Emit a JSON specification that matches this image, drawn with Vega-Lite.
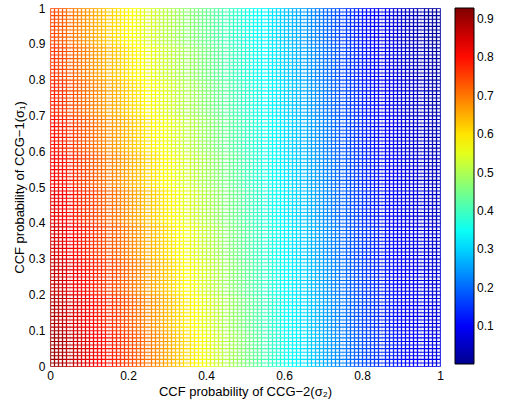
{
"$schema":"https://vega.github.io/schema/vega-lite/v6.json",
"width":390,"height":358,
"autosize":{"type":"none"},
"padding":{"left":50,"top":8,"right":70,"bottom":40},
"background":"white",
"config":{"view":{"stroke":null},"font":"Liberation Sans"},
"data":{"values":[
{"x":0,"y":0,"v":0.903},{"x":0,"y":0.1,"v":0.886},{"x":0,"y":0.2,"v":0.868},{"x":0,"y":0.3,"v":0.850},{"x":0,"y":0.4,"v":0.833},{"x":0,"y":0.5,"v":0.815},{"x":0,"y":0.6,"v":0.798},{"x":0,"y":0.7,"v":0.780},{"x":0,"y":0.8,"v":0.762},{"x":0,"y":0.9,"v":0.745},
{"x":0.02,"y":0,"v":0.887},{"x":0.02,"y":0.1,"v":0.869},{"x":0.02,"y":0.2,"v":0.852},{"x":0.02,"y":0.3,"v":0.834},{"x":0.02,"y":0.4,"v":0.816},{"x":0.02,"y":0.5,"v":0.798},{"x":0.02,"y":0.6,"v":0.780},{"x":0.02,"y":0.7,"v":0.763},{"x":0.02,"y":0.8,"v":0.745},{"x":0.02,"y":0.9,"v":0.727},
{"x":0.04,"y":0,"v":0.871},{"x":0.04,"y":0.1,"v":0.853},{"x":0.04,"y":0.2,"v":0.835},{"x":0.04,"y":0.3,"v":0.817},{"x":0.04,"y":0.4,"v":0.799},{"x":0.04,"y":0.5,"v":0.781},{"x":0.04,"y":0.6,"v":0.763},{"x":0.04,"y":0.7,"v":0.745},{"x":0.04,"y":0.8,"v":0.727},{"x":0.04,"y":0.9,"v":0.709},
{"x":0.06,"y":0,"v":0.855},{"x":0.06,"y":0.1,"v":0.837},{"x":0.06,"y":0.2,"v":0.819},{"x":0.06,"y":0.3,"v":0.800},{"x":0.06,"y":0.4,"v":0.782},{"x":0.06,"y":0.5,"v":0.764},{"x":0.06,"y":0.6,"v":0.746},{"x":0.06,"y":0.7,"v":0.728},{"x":0.06,"y":0.8,"v":0.709},{"x":0.06,"y":0.9,"v":0.691},
{"x":0.08,"y":0,"v":0.839},{"x":0.08,"y":0.1,"v":0.820},{"x":0.08,"y":0.2,"v":0.802},{"x":0.08,"y":0.3,"v":0.784},{"x":0.08,"y":0.4,"v":0.765},{"x":0.08,"y":0.5,"v":0.747},{"x":0.08,"y":0.6,"v":0.728},{"x":0.08,"y":0.7,"v":0.710},{"x":0.08,"y":0.8,"v":0.692},{"x":0.08,"y":0.9,"v":0.673},
{"x":0.1,"y":0,"v":0.823},{"x":0.1,"y":0.1,"v":0.804},{"x":0.1,"y":0.2,"v":0.786},{"x":0.1,"y":0.3,"v":0.767},{"x":0.1,"y":0.4,"v":0.749},{"x":0.1,"y":0.5,"v":0.730},{"x":0.1,"y":0.6,"v":0.711},{"x":0.1,"y":0.7,"v":0.693},{"x":0.1,"y":0.8,"v":0.674},{"x":0.1,"y":0.9,"v":0.656},
{"x":0.12,"y":0,"v":0.807},{"x":0.12,"y":0.1,"v":0.788},{"x":0.12,"y":0.2,"v":0.769},{"x":0.12,"y":0.3,"v":0.751},{"x":0.12,"y":0.4,"v":0.732},{"x":0.12,"y":0.5,"v":0.713},{"x":0.12,"y":0.6,"v":0.695},{"x":0.12,"y":0.7,"v":0.676},{"x":0.12,"y":0.8,"v":0.657},{"x":0.12,"y":0.9,"v":0.639},
{"x":0.14,"y":0,"v":0.791},{"x":0.14,"y":0.1,"v":0.772},{"x":0.14,"y":0.2,"v":0.753},{"x":0.14,"y":0.3,"v":0.734},{"x":0.14,"y":0.4,"v":0.716},{"x":0.14,"y":0.5,"v":0.697},{"x":0.14,"y":0.6,"v":0.678},{"x":0.14,"y":0.7,"v":0.659},{"x":0.14,"y":0.8,"v":0.641},{"x":0.14,"y":0.9,"v":0.622},
{"x":0.16,"y":0,"v":0.775},{"x":0.16,"y":0.1,"v":0.756},{"x":0.16,"y":0.2,"v":0.737},{"x":0.16,"y":0.3,"v":0.718},{"x":0.16,"y":0.4,"v":0.699},{"x":0.16,"y":0.5,"v":0.680},{"x":0.16,"y":0.6,"v":0.661},{"x":0.16,"y":0.7,"v":0.643},{"x":0.16,"y":0.8,"v":0.624},{"x":0.16,"y":0.9,"v":0.605},
{"x":0.18,"y":0,"v":0.759},{"x":0.18,"y":0.1,"v":0.740},{"x":0.18,"y":0.2,"v":0.721},{"x":0.18,"y":0.3,"v":0.702},{"x":0.18,"y":0.4,"v":0.683},{"x":0.18,"y":0.5,"v":0.664},{"x":0.18,"y":0.6,"v":0.645},{"x":0.18,"y":0.7,"v":0.626},{"x":0.18,"y":0.8,"v":0.607},{"x":0.18,"y":0.9,"v":0.588},
{"x":0.2,"y":0,"v":0.741},{"x":0.2,"y":0.1,"v":0.722},{"x":0.2,"y":0.2,"v":0.704},{"x":0.2,"y":0.3,"v":0.685},{"x":0.2,"y":0.4,"v":0.666},{"x":0.2,"y":0.5,"v":0.647},{"x":0.2,"y":0.6,"v":0.629},{"x":0.2,"y":0.7,"v":0.610},{"x":0.2,"y":0.8,"v":0.591},{"x":0.2,"y":0.9,"v":0.572},
{"x":0.22,"y":0,"v":0.722},{"x":0.22,"y":0.1,"v":0.704},{"x":0.22,"y":0.2,"v":0.686},{"x":0.22,"y":0.3,"v":0.668},{"x":0.22,"y":0.4,"v":0.649},{"x":0.22,"y":0.5,"v":0.631},{"x":0.22,"y":0.6,"v":0.613},{"x":0.22,"y":0.7,"v":0.595},{"x":0.22,"y":0.8,"v":0.576},{"x":0.22,"y":0.9,"v":0.558},
{"x":0.24,"y":0,"v":0.704},{"x":0.24,"y":0.1,"v":0.686},{"x":0.24,"y":0.2,"v":0.668},{"x":0.24,"y":0.3,"v":0.650},{"x":0.24,"y":0.4,"v":0.633},{"x":0.24,"y":0.5,"v":0.615},{"x":0.24,"y":0.6,"v":0.597},{"x":0.24,"y":0.7,"v":0.579},{"x":0.24,"y":0.8,"v":0.562},{"x":0.24,"y":0.9,"v":0.544},
{"x":0.26,"y":0,"v":0.685},{"x":0.26,"y":0.1,"v":0.668},{"x":0.26,"y":0.2,"v":0.650},{"x":0.26,"y":0.3,"v":0.633},{"x":0.26,"y":0.4,"v":0.616},{"x":0.26,"y":0.5,"v":0.599},{"x":0.26,"y":0.6,"v":0.581},{"x":0.26,"y":0.7,"v":0.564},{"x":0.26,"y":0.8,"v":0.547},{"x":0.26,"y":0.9,"v":0.530},
{"x":0.28,"y":0,"v":0.666},{"x":0.28,"y":0.1,"v":0.649},{"x":0.28,"y":0.2,"v":0.633},{"x":0.28,"y":0.3,"v":0.616},{"x":0.28,"y":0.4,"v":0.599},{"x":0.28,"y":0.5,"v":0.582},{"x":0.28,"y":0.6,"v":0.566},{"x":0.28,"y":0.7,"v":0.549},{"x":0.28,"y":0.8,"v":0.532},{"x":0.28,"y":0.9,"v":0.515},
{"x":0.3,"y":0,"v":0.647},{"x":0.3,"y":0.1,"v":0.631},{"x":0.3,"y":0.2,"v":0.615},{"x":0.3,"y":0.3,"v":0.598},{"x":0.3,"y":0.4,"v":0.582},{"x":0.3,"y":0.5,"v":0.566},{"x":0.3,"y":0.6,"v":0.550},{"x":0.3,"y":0.7,"v":0.534},{"x":0.3,"y":0.8,"v":0.518},{"x":0.3,"y":0.9,"v":0.502},
{"x":0.32,"y":0,"v":0.627},{"x":0.32,"y":0.1,"v":0.612},{"x":0.32,"y":0.2,"v":0.596},{"x":0.32,"y":0.3,"v":0.581},{"x":0.32,"y":0.4,"v":0.565},{"x":0.32,"y":0.5,"v":0.550},{"x":0.32,"y":0.6,"v":0.535},{"x":0.32,"y":0.7,"v":0.519},{"x":0.32,"y":0.8,"v":0.504},{"x":0.32,"y":0.9,"v":0.488},
{"x":0.34,"y":0,"v":0.608},{"x":0.34,"y":0.1,"v":0.593},{"x":0.34,"y":0.2,"v":0.578},{"x":0.34,"y":0.3,"v":0.563},{"x":0.34,"y":0.4,"v":0.549},{"x":0.34,"y":0.5,"v":0.534},{"x":0.34,"y":0.6,"v":0.519},{"x":0.34,"y":0.7,"v":0.504},{"x":0.34,"y":0.8,"v":0.490},{"x":0.34,"y":0.9,"v":0.475},
{"x":0.36,"y":0,"v":0.588},{"x":0.36,"y":0.1,"v":0.574},{"x":0.36,"y":0.2,"v":0.560},{"x":0.36,"y":0.3,"v":0.546},{"x":0.36,"y":0.4,"v":0.532},{"x":0.36,"y":0.5,"v":0.518},{"x":0.36,"y":0.6,"v":0.504},{"x":0.36,"y":0.7,"v":0.490},{"x":0.36,"y":0.8,"v":0.476},{"x":0.36,"y":0.9,"v":0.462},
{"x":0.38,"y":0,"v":0.568},{"x":0.38,"y":0.1,"v":0.555},{"x":0.38,"y":0.2,"v":0.542},{"x":0.38,"y":0.3,"v":0.528},{"x":0.38,"y":0.4,"v":0.515},{"x":0.38,"y":0.5,"v":0.502},{"x":0.38,"y":0.6,"v":0.488},{"x":0.38,"y":0.7,"v":0.475},{"x":0.38,"y":0.8,"v":0.462},{"x":0.38,"y":0.9,"v":0.448},
{"x":0.4,"y":0,"v":0.549},{"x":0.4,"y":0.1,"v":0.536},{"x":0.4,"y":0.2,"v":0.523},{"x":0.4,"y":0.3,"v":0.511},{"x":0.4,"y":0.4,"v":0.498},{"x":0.4,"y":0.5,"v":0.485},{"x":0.4,"y":0.6,"v":0.473},{"x":0.4,"y":0.7,"v":0.460},{"x":0.4,"y":0.8,"v":0.447},{"x":0.4,"y":0.9,"v":0.434},
{"x":0.42,"y":0,"v":0.529},{"x":0.42,"y":0.1,"v":0.517},{"x":0.42,"y":0.2,"v":0.505},{"x":0.42,"y":0.3,"v":0.493},{"x":0.42,"y":0.4,"v":0.481},{"x":0.42,"y":0.5,"v":0.469},{"x":0.42,"y":0.6,"v":0.456},{"x":0.42,"y":0.7,"v":0.444},{"x":0.42,"y":0.8,"v":0.432},{"x":0.42,"y":0.9,"v":0.420},
{"x":0.44,"y":0,"v":0.509},{"x":0.44,"y":0.1,"v":0.498},{"x":0.44,"y":0.2,"v":0.486},{"x":0.44,"y":0.3,"v":0.475},{"x":0.44,"y":0.4,"v":0.463},{"x":0.44,"y":0.5,"v":0.452},{"x":0.44,"y":0.6,"v":0.440},{"x":0.44,"y":0.7,"v":0.429},{"x":0.44,"y":0.8,"v":0.417},{"x":0.44,"y":0.9,"v":0.406},
{"x":0.46,"y":0,"v":0.490},{"x":0.46,"y":0.1,"v":0.479},{"x":0.46,"y":0.2,"v":0.468},{"x":0.46,"y":0.3,"v":0.457},{"x":0.46,"y":0.4,"v":0.446},{"x":0.46,"y":0.5,"v":0.435},{"x":0.46,"y":0.6,"v":0.424},{"x":0.46,"y":0.7,"v":0.413},{"x":0.46,"y":0.8,"v":0.402},{"x":0.46,"y":0.9,"v":0.392},
{"x":0.48,"y":0,"v":0.470},{"x":0.48,"y":0.1,"v":0.460},{"x":0.48,"y":0.2,"v":0.449},{"x":0.48,"y":0.3,"v":0.439},{"x":0.48,"y":0.4,"v":0.429},{"x":0.48,"y":0.5,"v":0.418},{"x":0.48,"y":0.6,"v":0.408},{"x":0.48,"y":0.7,"v":0.398},{"x":0.48,"y":0.8,"v":0.388},{"x":0.48,"y":0.9,"v":0.377},
{"x":0.5,"y":0,"v":0.450},{"x":0.5,"y":0.1,"v":0.440},{"x":0.5,"y":0.2,"v":0.431},{"x":0.5,"y":0.3,"v":0.421},{"x":0.5,"y":0.4,"v":0.411},{"x":0.5,"y":0.5,"v":0.401},{"x":0.5,"y":0.6,"v":0.392},{"x":0.5,"y":0.7,"v":0.382},{"x":0.5,"y":0.8,"v":0.372},{"x":0.5,"y":0.9,"v":0.362},
{"x":0.52,"y":0,"v":0.430},{"x":0.52,"y":0.1,"v":0.421},{"x":0.52,"y":0.2,"v":0.412},{"x":0.52,"y":0.3,"v":0.403},{"x":0.52,"y":0.4,"v":0.393},{"x":0.52,"y":0.5,"v":0.384},{"x":0.52,"y":0.6,"v":0.375},{"x":0.52,"y":0.7,"v":0.366},{"x":0.52,"y":0.8,"v":0.356},{"x":0.52,"y":0.9,"v":0.347},
{"x":0.54,"y":0,"v":0.411},{"x":0.54,"y":0.1,"v":0.402},{"x":0.54,"y":0.2,"v":0.393},{"x":0.54,"y":0.3,"v":0.384},{"x":0.54,"y":0.4,"v":0.376},{"x":0.54,"y":0.5,"v":0.367},{"x":0.54,"y":0.6,"v":0.358},{"x":0.54,"y":0.7,"v":0.349},{"x":0.54,"y":0.8,"v":0.341},{"x":0.54,"y":0.9,"v":0.332},
{"x":0.56,"y":0,"v":0.391},{"x":0.56,"y":0.1,"v":0.383},{"x":0.56,"y":0.2,"v":0.374},{"x":0.56,"y":0.3,"v":0.366},{"x":0.56,"y":0.4,"v":0.358},{"x":0.56,"y":0.5,"v":0.350},{"x":0.56,"y":0.6,"v":0.341},{"x":0.56,"y":0.7,"v":0.333},{"x":0.56,"y":0.8,"v":0.325},{"x":0.56,"y":0.9,"v":0.317},
{"x":0.58,"y":0,"v":0.371},{"x":0.58,"y":0.1,"v":0.363},{"x":0.58,"y":0.2,"v":0.356},{"x":0.58,"y":0.3,"v":0.348},{"x":0.58,"y":0.4,"v":0.340},{"x":0.58,"y":0.5,"v":0.332},{"x":0.58,"y":0.6,"v":0.325},{"x":0.58,"y":0.7,"v":0.317},{"x":0.58,"y":0.8,"v":0.309},{"x":0.58,"y":0.9,"v":0.301},
{"x":0.6,"y":0,"v":0.352},{"x":0.6,"y":0.1,"v":0.344},{"x":0.6,"y":0.2,"v":0.337},{"x":0.6,"y":0.3,"v":0.330},{"x":0.6,"y":0.4,"v":0.322},{"x":0.6,"y":0.5,"v":0.315},{"x":0.6,"y":0.6,"v":0.307},{"x":0.6,"y":0.7,"v":0.300},{"x":0.6,"y":0.8,"v":0.293},{"x":0.6,"y":0.9,"v":0.285},
{"x":0.62,"y":0,"v":0.333},{"x":0.62,"y":0.1,"v":0.326},{"x":0.62,"y":0.2,"v":0.319},{"x":0.62,"y":0.3,"v":0.311},{"x":0.62,"y":0.4,"v":0.304},{"x":0.62,"y":0.5,"v":0.297},{"x":0.62,"y":0.6,"v":0.290},{"x":0.62,"y":0.7,"v":0.283},{"x":0.62,"y":0.8,"v":0.275},{"x":0.62,"y":0.9,"v":0.268},
{"x":0.64,"y":0,"v":0.314},{"x":0.64,"y":0.1,"v":0.307},{"x":0.64,"y":0.2,"v":0.300},{"x":0.64,"y":0.3,"v":0.293},{"x":0.64,"y":0.4,"v":0.286},{"x":0.64,"y":0.5,"v":0.279},{"x":0.64,"y":0.6,"v":0.272},{"x":0.64,"y":0.7,"v":0.265},{"x":0.64,"y":0.8,"v":0.258},{"x":0.64,"y":0.9,"v":0.251},
{"x":0.66,"y":0,"v":0.295},{"x":0.66,"y":0.1,"v":0.288},{"x":0.66,"y":0.2,"v":0.282},{"x":0.66,"y":0.3,"v":0.275},{"x":0.66,"y":0.4,"v":0.268},{"x":0.66,"y":0.5,"v":0.261},{"x":0.66,"y":0.6,"v":0.254},{"x":0.66,"y":0.7,"v":0.248},{"x":0.66,"y":0.8,"v":0.241},{"x":0.66,"y":0.9,"v":0.234},
{"x":0.68,"y":0,"v":0.276},{"x":0.68,"y":0.1,"v":0.270},{"x":0.68,"y":0.2,"v":0.263},{"x":0.68,"y":0.3,"v":0.256},{"x":0.68,"y":0.4,"v":0.250},{"x":0.68,"y":0.5,"v":0.243},{"x":0.68,"y":0.6,"v":0.237},{"x":0.68,"y":0.7,"v":0.230},{"x":0.68,"y":0.8,"v":0.223},{"x":0.68,"y":0.9,"v":0.217},
{"x":0.7,"y":0,"v":0.258},{"x":0.7,"y":0.1,"v":0.251},{"x":0.7,"y":0.2,"v":0.245},{"x":0.7,"y":0.3,"v":0.238},{"x":0.7,"y":0.4,"v":0.232},{"x":0.7,"y":0.5,"v":0.226},{"x":0.7,"y":0.6,"v":0.219},{"x":0.7,"y":0.7,"v":0.213},{"x":0.7,"y":0.8,"v":0.206},{"x":0.7,"y":0.9,"v":0.200},
{"x":0.72,"y":0,"v":0.240},{"x":0.72,"y":0.1,"v":0.233},{"x":0.72,"y":0.2,"v":0.227},{"x":0.72,"y":0.3,"v":0.221},{"x":0.72,"y":0.4,"v":0.214},{"x":0.72,"y":0.5,"v":0.208},{"x":0.72,"y":0.6,"v":0.202},{"x":0.72,"y":0.7,"v":0.195},{"x":0.72,"y":0.8,"v":0.189},{"x":0.72,"y":0.9,"v":0.183},
{"x":0.74,"y":0,"v":0.222},{"x":0.74,"y":0.1,"v":0.216},{"x":0.74,"y":0.2,"v":0.209},{"x":0.74,"y":0.3,"v":0.203},{"x":0.74,"y":0.4,"v":0.197},{"x":0.74,"y":0.5,"v":0.191},{"x":0.74,"y":0.6,"v":0.184},{"x":0.74,"y":0.7,"v":0.178},{"x":0.74,"y":0.8,"v":0.172},{"x":0.74,"y":0.9,"v":0.166},
{"x":0.76,"y":0,"v":0.204},{"x":0.76,"y":0.1,"v":0.198},{"x":0.76,"y":0.2,"v":0.192},{"x":0.76,"y":0.3,"v":0.185},{"x":0.76,"y":0.4,"v":0.179},{"x":0.76,"y":0.5,"v":0.173},{"x":0.76,"y":0.6,"v":0.167},{"x":0.76,"y":0.7,"v":0.161},{"x":0.76,"y":0.8,"v":0.155},{"x":0.76,"y":0.9,"v":0.149},
{"x":0.78,"y":0,"v":0.186},{"x":0.78,"y":0.1,"v":0.180},{"x":0.78,"y":0.2,"v":0.174},{"x":0.78,"y":0.3,"v":0.168},{"x":0.78,"y":0.4,"v":0.162},{"x":0.78,"y":0.5,"v":0.156},{"x":0.78,"y":0.6,"v":0.150},{"x":0.78,"y":0.7,"v":0.144},{"x":0.78,"y":0.8,"v":0.138},{"x":0.78,"y":0.9,"v":0.132},
{"x":0.8,"y":0,"v":0.171},{"x":0.8,"y":0.1,"v":0.165},{"x":0.8,"y":0.2,"v":0.159},{"x":0.8,"y":0.3,"v":0.153},{"x":0.8,"y":0.4,"v":0.147},{"x":0.8,"y":0.5,"v":0.141},{"x":0.8,"y":0.6,"v":0.135},{"x":0.8,"y":0.7,"v":0.129},{"x":0.8,"y":0.8,"v":0.123},{"x":0.8,"y":0.9,"v":0.117},
{"x":0.82,"y":0,"v":0.159},{"x":0.82,"y":0.1,"v":0.153},{"x":0.82,"y":0.2,"v":0.147},{"x":0.82,"y":0.3,"v":0.141},{"x":0.82,"y":0.4,"v":0.134},{"x":0.82,"y":0.5,"v":0.128},{"x":0.82,"y":0.6,"v":0.122},{"x":0.82,"y":0.7,"v":0.116},{"x":0.82,"y":0.8,"v":0.110},{"x":0.82,"y":0.9,"v":0.104},
{"x":0.84,"y":0,"v":0.147},{"x":0.84,"y":0.1,"v":0.141},{"x":0.84,"y":0.2,"v":0.134},{"x":0.84,"y":0.3,"v":0.128},{"x":0.84,"y":0.4,"v":0.122},{"x":0.84,"y":0.5,"v":0.116},{"x":0.84,"y":0.6,"v":0.109},{"x":0.84,"y":0.7,"v":0.103},{"x":0.84,"y":0.8,"v":0.097},{"x":0.84,"y":0.9,"v":0.091},
{"x":0.86,"y":0,"v":0.135},{"x":0.86,"y":0.1,"v":0.129},{"x":0.86,"y":0.2,"v":0.122},{"x":0.86,"y":0.3,"v":0.116},{"x":0.86,"y":0.4,"v":0.109},{"x":0.86,"y":0.5,"v":0.103},{"x":0.86,"y":0.6,"v":0.097},{"x":0.86,"y":0.7,"v":0.090},{"x":0.86,"y":0.8,"v":0.084},{"x":0.86,"y":0.9,"v":0.078},
{"x":0.88,"y":0,"v":0.123},{"x":0.88,"y":0.1,"v":0.116},{"x":0.88,"y":0.2,"v":0.110},{"x":0.88,"y":0.3,"v":0.103},{"x":0.88,"y":0.4,"v":0.097},{"x":0.88,"y":0.5,"v":0.091},{"x":0.88,"y":0.6,"v":0.084},{"x":0.88,"y":0.7,"v":0.078},{"x":0.88,"y":0.8,"v":0.071},{"x":0.88,"y":0.9,"v":0.065},
{"x":0.9,"y":0,"v":0.113},{"x":0.9,"y":0.1,"v":0.106},{"x":0.9,"y":0.2,"v":0.100},{"x":0.9,"y":0.3,"v":0.093},{"x":0.9,"y":0.4,"v":0.086},{"x":0.9,"y":0.5,"v":0.080},{"x":0.9,"y":0.6,"v":0.073},{"x":0.9,"y":0.7,"v":0.067},{"x":0.9,"y":0.8,"v":0.060},{"x":0.9,"y":0.9,"v":0.053},
{"x":0.92,"y":0,"v":0.105},{"x":0.92,"y":0.1,"v":0.098},{"x":0.92,"y":0.2,"v":0.091},{"x":0.92,"y":0.3,"v":0.084},{"x":0.92,"y":0.4,"v":0.077},{"x":0.92,"y":0.5,"v":0.071},{"x":0.92,"y":0.6,"v":0.064},{"x":0.92,"y":0.7,"v":0.057},{"x":0.92,"y":0.8,"v":0.050},{"x":0.92,"y":0.9,"v":0.043},
{"x":0.94,"y":0,"v":0.097},{"x":0.94,"y":0.1,"v":0.090},{"x":0.94,"y":0.2,"v":0.083},{"x":0.94,"y":0.3,"v":0.076},{"x":0.94,"y":0.4,"v":0.069},{"x":0.94,"y":0.5,"v":0.062},{"x":0.94,"y":0.6,"v":0.055},{"x":0.94,"y":0.7,"v":0.048},{"x":0.94,"y":0.8,"v":0.041},{"x":0.94,"y":0.9,"v":0.034},
{"x":0.96,"y":0,"v":0.088},{"x":0.96,"y":0.1,"v":0.081},{"x":0.96,"y":0.2,"v":0.074},{"x":0.96,"y":0.3,"v":0.067},{"x":0.96,"y":0.4,"v":0.060},{"x":0.96,"y":0.5,"v":0.052},{"x":0.96,"y":0.6,"v":0.045},{"x":0.96,"y":0.7,"v":0.038},{"x":0.96,"y":0.8,"v":0.031},{"x":0.96,"y":0.9,"v":0.024},
{"x":0.98,"y":0,"v":0.080},{"x":0.98,"y":0.1,"v":0.073},{"x":0.98,"y":0.2,"v":0.066},{"x":0.98,"y":0.3,"v":0.058},{"x":0.98,"y":0.4,"v":0.051},{"x":0.98,"y":0.5,"v":0.043},{"x":0.98,"y":0.6,"v":0.036},{"x":0.98,"y":0.7,"v":0.029},{"x":0.98,"y":0.8,"v":0.021},{"x":0.98,"y":0.9,"v":0.014}
]},
"mark":{"type":"rect","strokeWidth":0.6,"stroke":{"expr":"scale('color', datum.v)"}},
"encoding":{
"x":{"field":"x","type":"quantitative","bin":{"binned":true,"step":0.02},
 "scale":{"domain":[0,1],"nice":false,"zero":false},
 "axis":{"values":[0,0.2,0.4,0.6,0.8,1,0.005,0.015,0.025,0.035,0.045,0.055,0.065,0.075,0.085,0.095,0.105,0.115,0.125,0.135,0.145,0.155,0.165,0.175,0.185,0.195,0.205,0.215,0.225,0.235,0.245,0.255,0.265,0.275,0.285,0.295,0.305,0.315,0.325,0.335,0.345,0.355,0.365,0.375,0.385,0.395,0.405,0.415,0.425,0.435,0.445,0.455,0.465,0.475,0.485,0.495,0.505,0.515,0.525,0.535,0.545,0.555,0.565,0.575,0.585,0.595,0.605,0.615,0.625,0.635,0.645,0.655,0.665,0.675,0.685,0.695,0.705,0.715,0.725,0.735,0.745,0.755,0.765,0.775,0.785,0.795,0.805,0.815,0.825,0.835,0.845,0.855,0.865,0.875,0.885,0.895,0.905,0.915,0.925,0.935,0.945,0.955,0.965,0.975,0.985,0.995],
  "labelExpr":"abs(datum.value*5-round(datum.value*5))<0.001 ? format(datum.value,'~g') : ''",
  "gridOpacity":{"condition":{"test":"abs(datum.value*5-round(datum.value*5))<0.001","value":0},"value":1},
  "grid":true,"gridColor":"#ffffff","gridWidth":2.7,"gridDash":[2.5,1.08],"gridDashOffset":3.04,"ticks":false,"domain":false,"zindex":1,
  "labelOverlap":false,"labelFlush":false,"labelPadding":4,"labelFontSize":12,"labelFont":"Liberation Sans","labelColor":"#000000",
  "title":"CCF probability of CCG−2(σ₂)","titleFont":"Liberation Sans","titleFontSize":13,"titleFontWeight":"normal","titleColor":"#000000","titlePadding":4}},
"y":{"field":"y","type":"quantitative","bin":{"binned":true,"step":0.1},
 "scale":{"domain":[0,1],"nice":false,"zero":false},
 "axis":{"values":[0,0.1,0.2,0.3,0.4,0.5,0.6,0.7,0.8,0.9,1],
  "labelExpr":"format(datum.value,'~g')",
  "grid":false,"ticks":false,"domain":false,
  "labelOverlap":false,"labelFlush":false,"labelPadding":5,"labelFontSize":12,"labelFont":"Liberation Sans","labelColor":"#000000",
  "title":"CCF probability of CCG−1(σ₁)","titleFont":"Liberation Sans","titleFontSize":13,"titleFontWeight":"normal","titleColor":"#000000","titlePadding":2}},
"color":{"field":"v","type":"quantitative",
 "scale":{"type":"linear","domain":[0.002,0.105,0.34,0.575,0.81,0.928],"range":["#00008f","#0000ff","#00ffff","#ffff00","#ff0000","#800000"],"interpolate":"rgb"},
 "legend":{"type":"gradient","orient":"none","legendX":405,"legendY":0,"direction":"vertical","gradientLength":356,"gradientThickness":19,
  "values":[0.1,0.2,0.3,0.4,0.5,0.6,0.7,0.8,0.9],"title":null,"labelFontSize":12,"labelFont":"Liberation Sans","labelColor":"#000000",
  "labelOffset":3,"gradientStrokeColor":"#000000","gradientStrokeWidth":1,"labelOverlap":false}}
}
}
